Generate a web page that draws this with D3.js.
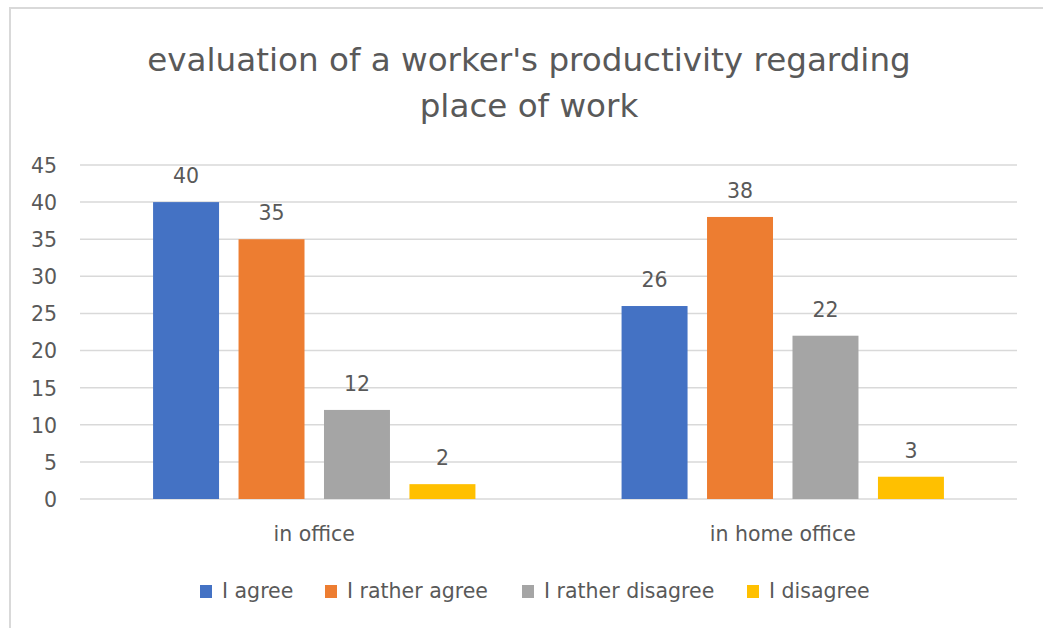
<!DOCTYPE html>
<html>
<head>
<meta charset="utf-8">
<script src="https://cdn.jsdelivr.net/npm/d3@7"></script>
<style>
  html, body { margin: 0; padding: 0; background: #fff; }
  svg { display: block; }
</style>
</head>
<body>
<svg id="chart" width="1043" height="628"></svg>
<script>
const categories = ["in office", "in home office"];
const seriesNames = ["I agree", "I rather agree", "I rather disagree", "I disagree"];
const seriesColors = ["#4472C4", "#ED7D31", "#A5A5A5", "#FFC000"];
const agreeValues = [40, 26];
const ratherAgreeValues = [35, 38];
const ratherDisagreeValues = [12, 22];
const disagreeValues = [2, 3];
const yTicks = [0, 5, 10, 15, 20, 25, 30, 35, 40, 45];
const titleLines = ["evaluation of a worker's productivity regarding", "place of work"];

(function () {
const seriesValues = [agreeValues, ratherAgreeValues, ratherDisagreeValues, disagreeValues];
const rows = [];
categories.forEach((c, ci) => {
  seriesNames.forEach((s, si) => rows.push({ cat: c, series: s, value: seriesValues[si][ci], color: seriesColors[si] }));
});

const svg = d3.select("#chart");
const textColor = "#595959";
const font = "'DejaVu Sans', sans-serif";

// chart border
svg.append("rect").attr("x", 10).attr("y", 8).attr("width", 1100).attr("height", 700)
  .attr("fill", "none").attr("stroke", "#d9d9d9").attr("stroke-width", 2);

const pLeft = 80, pRight = 1017, pTop = 165, pBottom = 499;

const y = d3.scaleLinear().domain([0, 45]).range([pBottom, pTop]);
const x0 = d3.scaleBand().domain(categories).range([pLeft, pRight]).padding(0);
const x1 = d3.scaleBand().domain(seriesNames).range([0, x0.bandwidth()])
  .paddingInner(0.228).paddingOuter(0.855);

// gridlines
svg.append("g").selectAll("line").data(yTicks).join("line")
  .attr("x1", pLeft).attr("x2", pRight)
  .attr("y1", d => y(d)).attr("y2", d => y(d))
  .attr("stroke", "#d9d9d9").attr("stroke-width", 1.5);

// y axis
const yAxis = d3.axisLeft(y).tickValues(yTicks).tickSize(0).tickPadding(0);
const yg = svg.append("g").attr("transform", `translate(57,0)`).call(yAxis);
yg.select(".domain").remove();
yg.selectAll("text").attr("fill", textColor).attr("font-size", 20.5)
  .attr("font-family", font).attr("dy", "0.36em");

// bars
svg.append("g").selectAll("rect").data(rows).join("rect")
  .attr("x", d => x0(d.cat) + x1(d.series))
  .attr("width", x1.bandwidth())
  .attr("y", d => y(d.value))
  .attr("height", d => y(0) - y(d.value))
  .attr("fill", d => d.color);

// value labels
svg.append("g").selectAll("text").data(rows).join("text")
  .attr("x", d => x0(d.cat) + x1(d.series) + x1.bandwidth() / 2)
  .attr("y", d => y(d.value) - 19)
  .attr("text-anchor", "middle")
  .attr("fill", textColor).attr("font-size", 20.5).attr("font-family", font)
  .text(d => d.value);

// x axis labels
const xAxis = d3.axisBottom(x0).tickSize(0).tickPadding(0);
const xg = svg.append("g").attr("transform", `translate(0,${pBottom})`).call(xAxis);
xg.select(".domain").remove();
xg.selectAll("text").attr("fill", textColor).attr("font-size", 20.5)
  .attr("font-family", font).attr("dy", null).attr("y", 42);

// title
svg.append("g").selectAll("text").data(titleLines).join("text")
  .attr("x", 529).attr("y", (d, i) => 71 + i * 46)
  .attr("text-anchor", "middle").attr("fill", textColor)
  .attr("font-size", 32.6).attr("font-family", font)
  .text(d => d);

// legend
const legendX = [200, 325, 522, 747];
const lg = svg.append("g").selectAll("g").data(seriesNames).join("g")
  .attr("transform", (d, i) => `translate(${legendX[i]},585)`);
lg.append("rect").attr("width", 12).attr("height", 13).attr("fill", (d, i) => seriesColors[i]);
lg.append("text").attr("x", 22).attr("y", 13)
  .attr("fill", textColor).attr("font-size", 20.5).attr("font-family", font)
  .text(d => d);
})();
</script>
</body>
</html>
